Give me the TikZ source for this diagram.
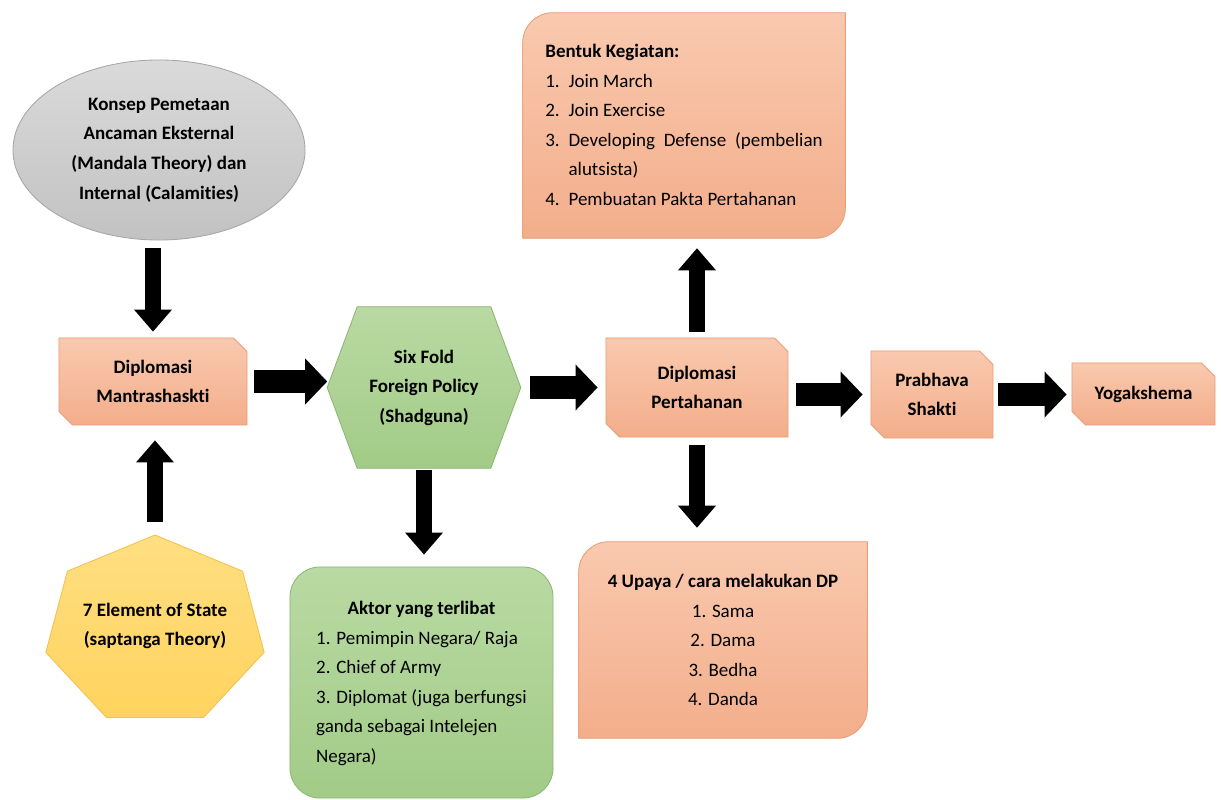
\documentclass[tikz,border=0pt]{standalone}
\usepackage{fontspec}
\setmainfont{Carlito}[Ligatures=NoCommon]
\usetikzlibrary{shapes.geometric,shapes.misc,arrows.meta,backgrounds}

\definecolor{salmonatas}{HTML}{F9C9AF}
\definecolor{salmonbawah}{HTML}{F3AE8B}
\definecolor{salmongaris}{HTML}{E89E78}
\definecolor{hijauatas}{HTML}{B9DAA3}
\definecolor{hijaubawah}{HTML}{A2CB87}
\definecolor{hijaugaris}{HTML}{8DB574}
\definecolor{abuatas}{HTML}{DADADA}
\definecolor{abubawah}{HTML}{C2C2C2}
\definecolor{abugaris}{HTML}{A6A6A6}
\definecolor{kuningatas}{HTML}{FFDF82}
\definecolor{kuningbawah}{HTML}{FFD35E}
\definecolor{kuninggaris}{HTML}{F0C24E}

\tikzset{kotak/.style={draw=#1garis,line width=0.6pt,top color=#1atas,bottom color=#1bawah},kotak/.default={salmon},
teks/.style={font=\bfseries\fontsize{13.5}{21}\selectfont,align=center,inner sep=0pt},
daftar/.style={font=\fontsize{13.5}{21}\selectfont,inner sep=0pt},
potong/.style={kotak,chamfered rectangle,chamfered rectangle corners={north east,south west},chamfered rectangle xsep=0.17cm,chamfered rectangle ysep=0.17cm},
panah/.style={line width=0.55cm,-{Triangle[width=1.15cm,length=0.55cm,line width=0pt]}},
panahv/.style={line width=0.42cm,-{Triangle[width=0.95cm,length=0.55cm,line width=0pt]}}}

\begin{document}
\begin{tikzpicture}[x=0.025cm,y=-0.025cm]
\useasboundingbox (0,0) rectangle (1221,800);

\node [teks,kotak=abu,ellipse,minimum width=7.3cm,minimum height=4.5cm] (konsep) at (159,150)
 {Konsep Pemetaan\\Ancaman Eksternal\\(Mandala Theory) dan\\Internal (Calamities)};
\node [teks,potong,minimum width=4.7cm,minimum height=2.175cm] (mantra) at (153,381.5) {Diplomasi\\Mantrashaskti};
\node [teks,minimum width=4.825cm,minimum height=4.025cm] (sixfold) at (424,387.5) {Six Fold\\Foreign Policy\\(Shadguna)};
\node [teks,potong,minimum width=4.55cm,minimum height=2.475cm] (pertahanan) at (697,387.5) {Diplomasi\\Pertahanan};
\node [teks,potong,minimum width=3.05cm,minimum height=2.175cm] (prabhava) at (932,394.5) {Prabhava\\Shakti};
\node [teks,potong,minimum width=3.575cm,minimum height=1.55cm] (yoga) at (1143.5,394) {Yogakshema};
\node [teks] (sapta) at (155,626) {7 Element of State\\(saptanga Theory)};
\coordinate (puncak7) at (155,535);

\node [daftar,minimum width=8.05cm,minimum height=5.625cm] (kegiatan) at (684,125.5) {%
\begin{tabular}{@{}l@{\hspace{0.22cm}}l@{}}
\multicolumn{2}{@{}l@{}}{\bfseries Bentuk Kegiatan:}\\
1. & Join March\\
2. & Join Exercise\\
3. & \makebox[6.35cm][s]{Developing Defense (pembelian}\\
   & alutsista)\\
4. & Pembuatan Pakta Pertahanan
\end{tabular}};
\node [daftar,align=center,minimum width=7.2cm,minimum height=4.9cm] (upaya) at (723,640)
 {\textbf{4 Upaya / cara melakukan DP}\\1. Sama\\2. Dama\\3. Bedha\\4. Danda};
\node [daftar,kotak=hijau,rounded corners=0.75cm,minimum width=6.575cm,minimum height=5.775cm] (aktor) at (421.5,682.5) {%
\begin{tabular}{@{}l@{}}
\multicolumn{1}{@{}c@{}}{\bfseries Aktor yang terlibat}\\
1. Pemimpin Negara/ Raja\\
2. Chief of Army\\
3. Diplomat (juga berfungsi\\
ganda sebagai Intelejen\\
Negara)
\end{tabular}};

\begin{scope}[on background layer]
% bentuk yang tidak ada sebagai shape
\draw [kotak=hijau] (sixfold.west) -- ([xshift=0.75cm]sixfold.north west) -- ([xshift=-0.75cm]sixfold.north east)
 -- (sixfold.east) -- ([xshift=-0.75cm]sixfold.south east) -- ([xshift=0.75cm]sixfold.south west) -- cycle;
\draw [kotak] ([yshift=-0.75cm]kegiatan.north west) arc[start angle=180,end angle=90,radius=0.75cm] -- (kegiatan.north east)
 -- ([yshift=0.75cm]kegiatan.south east) arc[start angle=0,end angle=-90,radius=0.75cm] -- (kegiatan.south west) -- cycle;
\draw [kotak] ([yshift=-0.75cm]upaya.north west) arc[start angle=180,end angle=90,radius=0.75cm] -- (upaya.north east)
 -- ([yshift=0.75cm]upaya.south east) arc[start angle=0,end angle=-90,radius=0.75cm] -- (upaya.south west) -- cycle;
\draw [kotak=kuning] plot[samples at={0,...,6}] ({155+112*cos(90+\x*360/7)},{631-96*sin(90+\x*360/7)}) -- cycle;
\end{scope}

\draw [panahv,shorten <=0.2cm,shorten >=0.15cm] (konsep.south -| mantra.north) -- (mantra.north);
\draw [panahv,shorten <=0.325cm,shorten >=0.375cm] (puncak7) -- (puncak7 |- mantra.south);
\draw [panah,shorten <=0.175cm] (mantra.east) -- (mantra.east -| sixfold.west);
\draw [panah,shorten <=0.225cm,shorten >=0.2cm] (sixfold.east) -- (sixfold.east -| pertahanan.west);
\draw [panahv,shorten <=0.05cm,shorten >=0.3cm] (sixfold.south) -- (sixfold.south |- aktor.north);
\draw [panahv,shorten <=0.15cm,shorten >=0.25cm] (pertahanan.north) -- (pertahanan.north |- kegiatan.south);
\draw [panahv,shorten <=0.2cm,shorten >=0.35cm] (pertahanan.south) -- (pertahanan.south |- upaya.north);
\draw [panah,shorten <=0.2cm,shorten >=0.2cm] (prabhava.west -| pertahanan.east) -- (prabhava.west);
\draw [panah,shorten <=0.125cm,shorten >=0.125cm] (prabhava.east) -- (prabhava.east -| yoga.west);
\end{tikzpicture}
\end{document}
